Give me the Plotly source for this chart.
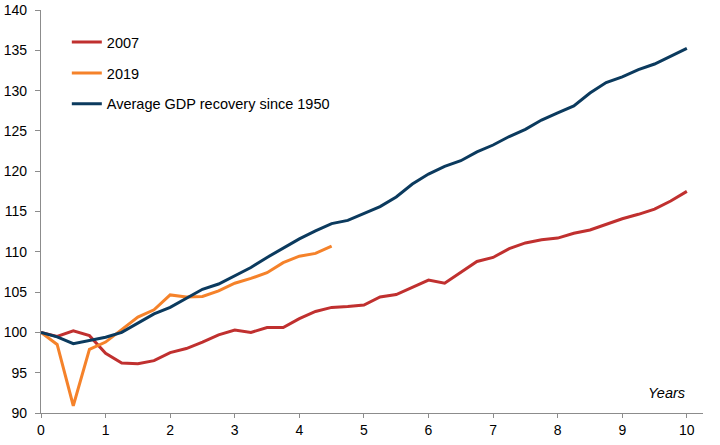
import plotly.graph_objects as go

# quarters since the start of recovery (0 .. 10 years)
years = [i * 0.25 for i in range(41)]
years_2019 = years[:19]

gdp_2007 = [100.0, 99.5, 100.2, 99.6, 97.4, 96.2, 96.1, 96.5, 97.5, 98.0,
            98.8, 99.7, 100.3, 100.0, 100.6, 100.6, 101.7, 102.6, 103.1, 103.2,
            103.4, 104.4, 104.7, 105.6, 106.5, 106.1, 107.4, 108.8, 109.3, 110.4,
            111.1, 111.5, 111.7, 112.3, 112.7, 113.4, 114.1, 114.65, 115.3, 116.3,
            117.5]

gdp_2019 = [100.0, 98.5, 90.9, 97.9, 98.8, 100.3, 101.9, 102.8, 104.65, 104.4,
            104.45, 105.15, 106.1, 106.7, 107.4, 108.65, 109.45, 109.8, 110.7]

gdp_avg = [100.0, 99.45, 98.6, 99.0, 99.4, 100.0, 101.1, 102.3, 103.1, 104.2,
           105.35, 106.0, 107.0, 108.05, 109.3, 110.45, 111.6, 112.6, 113.5, 113.9,
           114.8, 115.6, 116.8, 118.4, 119.65, 120.6, 121.3, 122.4, 123.25, 124.3,
           125.2, 126.35, 127.25, 128.1, 129.7, 131.0, 131.7, 132.6, 133.3, 134.3,
           135.25]

fig = go.Figure()
fig.add_trace(go.Scatter(x=years, y=gdp_2007, name='2007', mode='lines',
                         line=dict(color='#C0302F', width=3), legendgroup='a'))
fig.add_trace(go.Scatter(x=years_2019, y=gdp_2019, name='2019', mode='lines',
                         line=dict(color='#F5822A', width=3), legendgroup='b'))
fig.add_trace(go.Scatter(x=years, y=gdp_avg, name='Average GDP recovery since 1950', mode='lines',
                         line=dict(color='#0B3A5E', width=3), legendgroup='c'))

fig.update_xaxes(range=[0, 10.25], dtick=1, tick0=0, automargin=False,
                 showgrid=False, zeroline=False,
                 showline=True, linecolor='#8C8C8C', linewidth=1.3,
                 ticks='outside', ticklen=4, tickcolor='#8C8C8C',
                 tickfont=dict(size=14, color='black'))
fig.update_yaxes(range=[90, 140], dtick=5, tick0=90, automargin=False,
                 showgrid=False, zeroline=False,
                 showline=True, linecolor='#8C8C8C', linewidth=1.3,
                 ticks='outside', ticklen=5, tickcolor='#8C8C8C',
                 ticklabelstandoff=5,
                 tickfont=dict(size=14, color='black'))

fig.add_annotation(x=9.69, y=92.5, xref='x', yref='y', text='<i>Years</i>',
                   showarrow=False, font=dict(size=14.5, color='black'))

fig.update_layout(
    width=720, height=445,
    margin=dict(l=41, r=17, t=10, b=32),
    paper_bgcolor='white', plot_bgcolor='white',
    font=dict(family='Liberation Sans, Arial', size=14, color='black'),
    legend=dict(x=0.039, y=0.96, xanchor='left', yanchor='top',
                bgcolor='rgba(0,0,0,0)', tracegroupgap=9,
                font=dict(size=14.5)),
)

# drop the default page margin so the figure sits at the window corner
fig.write_html("out.html", config={'displayModeBar': False},
               post_script="document.body.style.margin='0px';")
